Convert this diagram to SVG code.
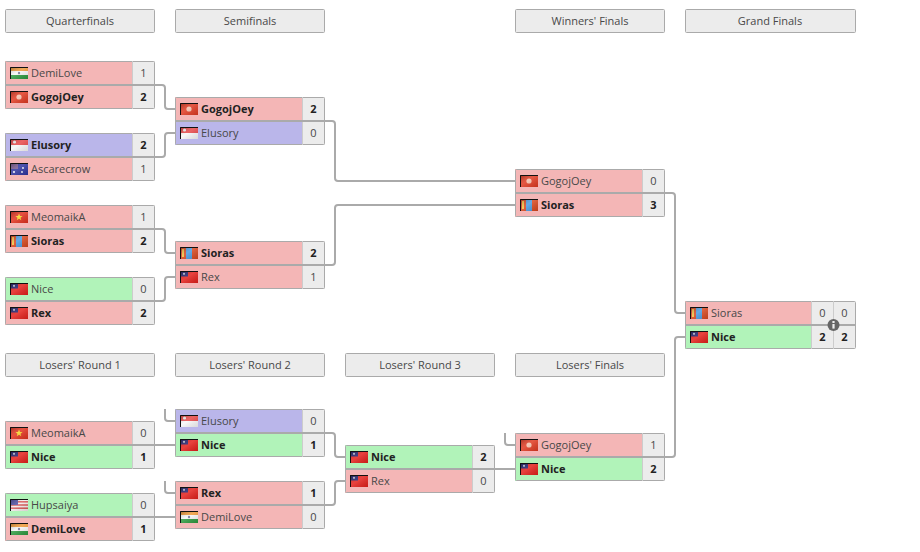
<svg xmlns="http://www.w3.org/2000/svg" width="920" height="552" viewBox="0 0 920 552">
<style>
text{font-family:"Open Sans","Liberation Sans",sans-serif;font-size:11px;fill:#484848}
.b{font-weight:700;fill:#222}
.s{text-anchor:middle}
.hd{fill:#ececec;stroke:#aaa;stroke-width:1}
.ht{text-anchor:middle}
.r{fill:#f4b6b6}.p{fill:#bab6ea}.g{fill:#b1f3b9}
.sc{fill:#ececec}
.bd{fill:none;stroke:#aaa;stroke-width:1}
.sp{stroke:#aaa;stroke-width:2}
.dv{stroke:#ccc;stroke-width:1}
.c{fill:none;stroke:#aaa;stroke-width:2}
</style>
<defs>
<linearGradient id="gl" x1="0" y1="0" x2="1" y2="1"><stop offset="0" stop-color="#000" stop-opacity=".3"/><stop offset=".45" stop-color="#fff" stop-opacity=".15"/><stop offset="1" stop-color="#000" stop-opacity=".12"/></linearGradient>
<g id="fo"><rect width="18" height="12" fill="url(#gl)"/><path d="M.5 12V.5H18" fill="none" stroke="#111" stroke-width="1"/></g>
<symbol id="in" overflow="visible"><rect width="18" height="4" fill="#f09a3a"/><rect y="4" width="18" height="4" fill="#f7f7f7"/><rect y="8" width="18" height="4" fill="#2e9a40"/><circle cx="9" cy="6" r="1.2" fill="#779"/><use href="#fo"/></symbol>
<symbol id="hk" overflow="visible"><rect width="18" height="12" fill="#e03a22"/><circle cx="9" cy="6" r="2.6" fill="#f5c0ac"/><use href="#fo"/></symbol>
<symbol id="sg" overflow="visible"><rect width="18" height="6" fill="#e8494a"/><rect y="6" width="18" height="6" fill="#f8f8f8"/><circle cx="4.5" cy="3" r="1.6" fill="#f8f8f8"/><use href="#fo"/></symbol>
<symbol id="au" overflow="visible"><rect width="18" height="12" fill="#2f35a0"/><rect width="8" height="6" fill="#7a5a90"/><circle cx="13" cy="5" r=".9" fill="#fff"/><circle cx="12" cy="9" r=".9" fill="#fff"/><circle cx="4" cy="9" r="1" fill="#fff"/><use href="#fo"/></symbol>
<symbol id="vn" overflow="visible"><rect width="18" height="12" fill="#e2321f"/><polygon points="9,2.5 10,5 12.6,5 10.5,6.7 11.3,9.3 9,7.7 6.7,9.3 7.5,6.7 5.4,5 8,5" fill="#f7d628"/><use href="#fo"/></symbol>
<symbol id="mn" overflow="visible"><rect width="18" height="12" fill="#d8481f"/><rect x="6" width="6" height="12" fill="#4a9ae0"/><rect x="2" y="2" width="2" height="8" fill="#f0c040"/><use href="#fo"/></symbol>
<symbol id="tw" overflow="visible"><rect width="18" height="12" fill="#e4211c"/><rect width="8" height="5.5" fill="#20206e"/><circle cx="4" cy="2.8" r="1.1" fill="#ccd"/><use href="#fo"/></symbol>
<symbol id="us" overflow="visible"><rect width="18" height="12" fill="#f4ecec"/><rect y="2" width="18" height="1.6" fill="#d85858"/><rect y="5.2" width="18" height="1.6" fill="#d85858"/><rect y="8.4" width="18" height="1.6" fill="#d85858"/><rect width="8" height="6" fill="#5050a4"/><use href="#fo"/></symbol>
</defs>
<rect width="920" height="552" fill="#fff"/>

<g id="headers">
<g id="h-qf"><rect class="hd" x="5.5" y="9.5" width="149" height="23" rx="1"/><text class="ht" x="80" y="25">Quarterfinals</text></g>
<g id="h-sf"><rect class="hd" x="175.5" y="9.5" width="149" height="23" rx="1"/><text class="ht" x="250" y="25">Semifinals</text></g>
<g id="h-wf"><rect class="hd" x="515.5" y="9.5" width="149" height="23" rx="1"/><text class="ht" x="590" y="25">Winners' Finals</text></g>
<g id="h-gf"><rect class="hd" x="685.5" y="9.5" width="170" height="23" rx="1"/><text class="ht" x="770" y="25">Grand Finals</text></g>
<g id="h-l1"><rect class="hd" x="5.5" y="353.5" width="149" height="23" rx="1"/><text class="ht" x="80" y="369">Losers' Round 1</text></g>
<g id="h-l2"><rect class="hd" x="175.5" y="353.5" width="149" height="23" rx="1"/><text class="ht" x="250" y="369">Losers' Round 2</text></g>
<g id="h-l3"><rect class="hd" x="345.5" y="353.5" width="149" height="23" rx="1"/><text class="ht" x="420" y="369">Losers' Round 3</text></g>
<g id="h-lf"><rect class="hd" x="515.5" y="353.5" width="149" height="23" rx="1"/><text class="ht" x="590" y="369">Losers' Finals</text></g>
</g>

<g id="m-qf1" transform="translate(5,61)"><rect class="r" width="127" height="24"/><rect class="r" y="24" width="127" height="24"/><rect class="sc" x="127" width="23" height="48"/><use href="#in" x="5" y="6" width="18" height="12"/><text x="26" y="16">DemiLove</text><text class="s" x="138.5" y="16">1</text><use href="#hk" x="5" y="30" width="18" height="12"/><text class="b" x="26" y="40">GogojOey</text><text class="b s" x="138.5" y="40">2</text><rect class="bd" x=".5" y=".5" width="149" height="47" rx="1"/><path class="dv" d="M127.5 0V48"/><path class="sp" d="M0 24H150"/></g>

<g id="m-qf2" transform="translate(5,133)"><rect class="p" width="127" height="24"/><rect class="r" y="24" width="127" height="24"/><rect class="sc" x="127" width="23" height="48"/><use href="#sg" x="5" y="6" width="18" height="12"/><text class="b" x="26" y="16">Elusory</text><text class="b s" x="138.5" y="16">2</text><use href="#au" x="5" y="30" width="18" height="12"/><text x="26" y="40">Ascarecrow</text><text class="s" x="138.5" y="40">1</text><rect class="bd" x=".5" y=".5" width="149" height="47" rx="1"/><path class="dv" d="M127.5 0V48"/><path class="sp" d="M0 24H150"/></g>

<g id="m-qf3" transform="translate(5,205)"><rect class="r" width="127" height="24"/><rect class="r" y="24" width="127" height="24"/><rect class="sc" x="127" width="23" height="48"/><use href="#vn" x="5" y="6" width="18" height="12"/><text x="26" y="16">MeomaikA</text><text class="s" x="138.5" y="16">1</text><use href="#mn" x="5" y="30" width="18" height="12"/><text class="b" x="26" y="40">Sioras</text><text class="b s" x="138.5" y="40">2</text><rect class="bd" x=".5" y=".5" width="149" height="47" rx="1"/><path class="dv" d="M127.5 0V48"/><path class="sp" d="M0 24H150"/></g>

<g id="m-qf4" transform="translate(5,277)"><rect class="g" width="127" height="24"/><rect class="r" y="24" width="127" height="24"/><rect class="sc" x="127" width="23" height="48"/><use href="#tw" x="5" y="6" width="18" height="12"/><text x="26" y="16">Nice</text><text class="s" x="138.5" y="16">0</text><use href="#tw" x="5" y="30" width="18" height="12"/><text class="b" x="26" y="40">Rex</text><text class="b s" x="138.5" y="40">2</text><rect class="bd" x=".5" y=".5" width="149" height="47" rx="1"/><path class="dv" d="M127.5 0V48"/><path class="sp" d="M0 24H150"/></g>

<g id="m-sf1" transform="translate(175,97)"><rect class="r" width="127" height="24"/><rect class="p" y="24" width="127" height="24"/><rect class="sc" x="127" width="23" height="48"/><use href="#hk" x="5" y="6" width="18" height="12"/><text class="b" x="26" y="16">GogojOey</text><text class="b s" x="138.5" y="16">2</text><use href="#sg" x="5" y="30" width="18" height="12"/><text x="26" y="40">Elusory</text><text class="s" x="138.5" y="40">0</text><rect class="bd" x=".5" y=".5" width="149" height="47" rx="1"/><path class="dv" d="M127.5 0V48"/><path class="sp" d="M0 24H150"/></g>

<g id="m-sf2" transform="translate(175,241)"><rect class="r" width="127" height="24"/><rect class="r" y="24" width="127" height="24"/><rect class="sc" x="127" width="23" height="48"/><use href="#mn" x="5" y="6" width="18" height="12"/><text class="b" x="26" y="16">Sioras</text><text class="b s" x="138.5" y="16">2</text><use href="#tw" x="5" y="30" width="18" height="12"/><text x="26" y="40">Rex</text><text class="s" x="138.5" y="40">1</text><rect class="bd" x=".5" y=".5" width="149" height="47" rx="1"/><path class="dv" d="M127.5 0V48"/><path class="sp" d="M0 24H150"/></g>

<g id="m-wf" transform="translate(515,169)"><rect class="r" width="127" height="24"/><rect class="r" y="24" width="127" height="24"/><rect class="sc" x="127" width="23" height="48"/><use href="#hk" x="5" y="6" width="18" height="12"/><text x="26" y="16">GogojOey</text><text class="s" x="138.5" y="16">0</text><use href="#mn" x="5" y="30" width="18" height="12"/><text class="b" x="26" y="40">Sioras</text><text class="b s" x="138.5" y="40">3</text><rect class="bd" x=".5" y=".5" width="149" height="47" rx="1"/><path class="dv" d="M127.5 0V48"/><path class="sp" d="M0 24H150"/></g>

<g id="m-gf" transform="translate(685,301)"><rect class="r" width="126" height="24"/><rect class="g" y="24" width="126" height="24"/><rect class="sc" x="126" width="44" height="48"/><use href="#mn" x="5" y="6" width="18" height="12"/><text x="26" y="16">Sioras</text><text class="s" x="137.5" y="16">0</text><text class="s" x="159.5" y="16">0</text><use href="#tw" x="5" y="30" width="18" height="12"/><text class="b" x="26" y="40">Nice</text><text class="b s" x="137.5" y="40">2</text><text class="b s" x="159.5" y="40">2</text><rect class="bd" x=".5" y=".5" width="170" height="47" rx="1"/><path class="dv" d="M126.5 0V48M148.5 0V48"/><path class="sp" d="M0 24H171"/><circle cx="148.5" cy="24" r="6" fill="#666"/><rect x="147.4" y="23" width="2.2" height="4.6" fill="#eee"/><rect x="147.4" y="20" width="2.2" height="2" fill="#eee"/></g>

<g id="m-l11" transform="translate(5,421)"><rect class="r" width="127" height="24"/><rect class="g" y="24" width="127" height="24"/><rect class="sc" x="127" width="23" height="48"/><use href="#vn" x="5" y="6" width="18" height="12"/><text x="26" y="16">MeomaikA</text><text class="s" x="138.5" y="16">0</text><use href="#tw" x="5" y="30" width="18" height="12"/><text class="b" x="26" y="40">Nice</text><text class="b s" x="138.5" y="40">1</text><rect class="bd" x=".5" y=".5" width="149" height="47" rx="1"/><path class="dv" d="M127.5 0V48"/><path class="sp" d="M0 24H150"/></g>

<g id="m-l12" transform="translate(5,493)"><rect class="g" width="127" height="24"/><rect class="r" y="24" width="127" height="24"/><rect class="sc" x="127" width="23" height="48"/><use href="#us" x="5" y="6" width="18" height="12"/><text x="26" y="16">Hupsaiya</text><text class="s" x="138.5" y="16">0</text><use href="#in" x="5" y="30" width="18" height="12"/><text class="b" x="26" y="40">DemiLove</text><text class="b s" x="138.5" y="40">1</text><rect class="bd" x=".5" y=".5" width="149" height="47" rx="1"/><path class="dv" d="M127.5 0V48"/><path class="sp" d="M0 24H150"/></g>

<g id="m-l21" transform="translate(175,409)"><rect class="p" width="127" height="24"/><rect class="g" y="24" width="127" height="24"/><rect class="sc" x="127" width="23" height="48"/><use href="#sg" x="5" y="6" width="18" height="12"/><text x="26" y="16">Elusory</text><text class="s" x="138.5" y="16">0</text><use href="#tw" x="5" y="30" width="18" height="12"/><text class="b" x="26" y="40">Nice</text><text class="b s" x="138.5" y="40">1</text><rect class="bd" x=".5" y=".5" width="149" height="47" rx="1"/><path class="dv" d="M127.5 0V48"/><path class="sp" d="M0 24H150"/></g>

<g id="m-l22" transform="translate(175,481)"><rect class="r" width="127" height="24"/><rect class="r" y="24" width="127" height="24"/><rect class="sc" x="127" width="23" height="48"/><use href="#tw" x="5" y="6" width="18" height="12"/><text class="b" x="26" y="16">Rex</text><text class="b s" x="138.5" y="16">1</text><use href="#in" x="5" y="30" width="18" height="12"/><text x="26" y="40">DemiLove</text><text class="s" x="138.5" y="40">0</text><rect class="bd" x=".5" y=".5" width="149" height="47" rx="1"/><path class="dv" d="M127.5 0V48"/><path class="sp" d="M0 24H150"/></g>

<g id="m-l3" transform="translate(345,445)"><rect class="g" width="127" height="24"/><rect class="r" y="24" width="127" height="24"/><rect class="sc" x="127" width="23" height="48"/><use href="#tw" x="5" y="6" width="18" height="12"/><text class="b" x="26" y="16">Nice</text><text class="b s" x="138.5" y="16">2</text><use href="#tw" x="5" y="30" width="18" height="12"/><text x="26" y="40">Rex</text><text class="s" x="138.5" y="40">0</text><rect class="bd" x=".5" y=".5" width="149" height="47" rx="1"/><path class="dv" d="M127.5 0V48"/><path class="sp" d="M0 24H150"/></g>

<g id="m-lf" transform="translate(515,433)"><rect class="r" width="127" height="24"/><rect class="g" y="24" width="127" height="24"/><rect class="sc" x="127" width="23" height="48"/><use href="#hk" x="5" y="6" width="18" height="12"/><text x="26" y="16">GogojOey</text><text class="s" x="138.5" y="16">1</text><use href="#tw" x="5" y="30" width="18" height="12"/><text class="b" x="26" y="40">Nice</text><text class="b s" x="138.5" y="40">2</text><rect class="bd" x=".5" y=".5" width="149" height="47" rx="1"/><path class="dv" d="M127.5 0V48"/><path class="sp" d="M0 24H150"/></g>

<g id="connectors">
<path class="c" d="M155 85H162Q165 85 165 88V106Q165 109 168 109H175"/>
<path class="c" d="M155 157H162Q165 157 165 154V136Q165 133 168 133H175"/>
<path class="c" d="M155 229H162Q165 229 165 232V250Q165 253 168 253H175"/>
<path class="c" d="M155 301H162Q165 301 165 298V280Q165 277 168 277H175"/>
<path class="c" d="M325 121H332Q335 121 335 124V178Q335 181 338 181H515"/>
<path class="c" d="M325 265H332Q335 265 335 262V208Q335 205 338 205H515"/>
<path class="c" d="M665 193H672Q675 193 675 196V310Q675 313 678 313H685"/>
<path class="c" d="M665 457H672Q675 457 675 454V340Q675 337 678 337H685"/>
<path class="c" d="M165 409V418Q165 421 168 421H175"/>
<path class="c" d="M155 445H175"/>
<path class="c" d="M165 481V490Q165 493 168 493H175"/>
<path class="c" d="M155 517H175"/>
<path class="c" d="M325 433H332Q335 433 335 436V454Q335 457 338 457H345"/>
<path class="c" d="M325 505H332Q335 505 335 502V484Q335 481 338 481H345"/>
<path class="c" d="M495 469H515"/>
<path class="c" d="M505 433V442Q505 445 508 445H515"/>
</g>
</svg>
